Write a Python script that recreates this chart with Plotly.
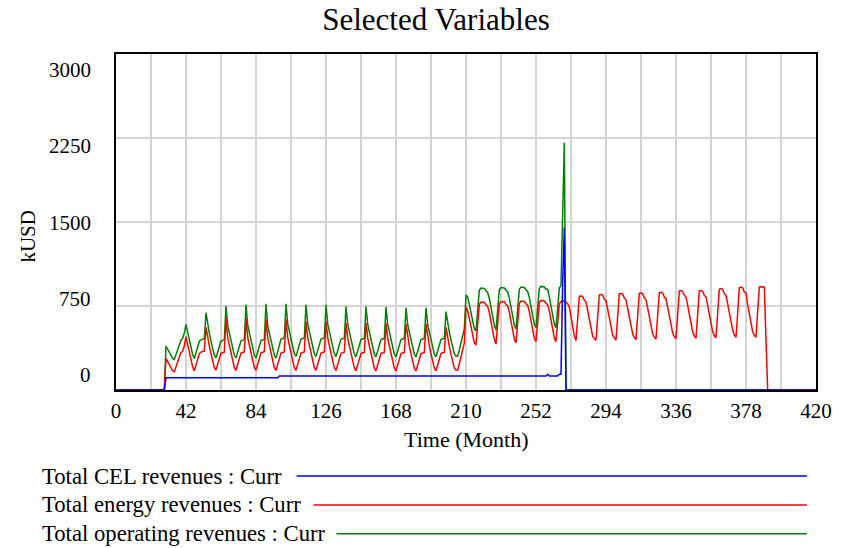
import plotly.graph_objects as go

# monthly values, one row = 12 months (row k starts at month 12*k)
months = list(range(0, 421))

cel_revenues = [
    0, 0, 0, 0, 0, 0, 0, 0, 0, 0, 0, 0,
    0, 0, 0, 0, 0, 0, 0, 0, 0, 0, 0, 0,
    0, 0, 0, 0, 0, 0, 110, 110, 110, 110, 110, 110,
    110, 110, 110, 110, 110, 110, 110, 110, 110, 110, 110, 110,
    110, 110, 110, 110, 110, 110, 110, 110, 110, 110, 110, 110,
    110, 110, 110, 110, 110, 110, 110, 110, 110, 110, 110, 110,
    110, 110, 110, 110, 110, 110, 110, 110, 110, 110, 110, 110,
    110, 110, 110, 110, 110, 110, 110, 110, 110, 110, 110, 110,
    110, 110, 125, 125, 125, 125, 125, 125, 125, 125, 125, 125,
    125, 125, 125, 125, 125, 125, 125, 125, 125, 125, 125, 125,
    125, 125, 125, 125, 125, 125, 125, 125, 125, 125, 125, 125,
    125, 125, 125, 125, 125, 125, 125, 125, 125, 125, 125, 125,
    125, 125, 125, 125, 125, 125, 125, 125, 125, 125, 125, 125,
    125, 125, 125, 125, 125, 125, 125, 125, 125, 125, 125, 125,
    125, 125, 125, 125, 125, 125, 125, 125, 125, 125, 125, 125,
    125, 125, 125, 125, 125, 125, 125, 125, 125, 125, 125, 125,
    125, 125, 125, 125, 125, 125, 125, 125, 125, 125, 125, 125,
    125, 125, 125, 125, 125, 125, 125, 125, 125, 125, 125, 125,
    125, 125, 125, 125, 125, 125, 125, 125, 125, 125, 125, 125,
    125, 125, 125, 125, 125, 125, 125, 125, 125, 125, 125, 125,
    125, 125, 125, 125, 125, 125, 125, 125, 125, 125, 125, 125,
    125, 125, 125, 125, 125, 125, 125, 140, 125, 125, 125, 125,
    125, 125, 140, 140, 955, 1450, 0, 0, 0, 0, 0, 0,
    0, 0, 0, 0, 0, 0, 0, 0, 0, 0, 0, 0,
    0, 0, 0, 0, 0, 0, 0, 0, 0, 0, 0, 0,
    0, 0, 0, 0, 0, 0, 0, 0, 0, 0, 0, 0,
    0, 0, 0, 0, 0, 0, 0, 0, 0, 0, 0, 0,
    0, 0, 0, 0, 0, 0, 0, 0, 0, 0, 0, 0,
    0, 0, 0, 0, 0, 0, 0, 0, 0, 0, 0, 0,
    0, 0, 0, 0, 0, 0, 0, 0, 0, 0, 0, 0,
    0, 0, 0, 0, 0, 0, 0, 0, 0, 0, 0, 0,
    0, 0, 0, 0, 0, 0, 0, 0, 0, 0, 0, 0,
    0, 0, 0, 0, 0, 0, 0, 0, 0, 0, 0, 0,
    0, 0, 0, 0, 0, 0, 0, 0, 0, 0, 0, 0,
    0, 0, 0, 0, 0, 0, 0, 0, 0, 0, 0, 0,
    0,
]

energy_revenues = [
    0, 0, 0, 0, 0, 0, 0, 0, 0, 0, 0, 0,
    0, 0, 0, 0, 0, 0, 0, 0, 0, 0, 0, 0,
    0, 0, 0, 0, 0, 0, 283, 255, 225, 195, 172, 163,
    205, 255, 300, 335, 345, 395, 476, 400, 330, 260, 205, 172,
    225, 280, 325, 338, 342, 348, 560, 465, 395, 325, 255, 200,
    178, 230, 285, 328, 333, 338, 640, 470, 400, 330, 260, 200,
    176, 230, 285, 330, 335, 340, 640, 472, 402, 332, 262, 202,
    176, 232, 287, 332, 337, 342, 630, 470, 400, 330, 260, 200,
    175, 230, 285, 330, 335, 340, 630, 470, 400, 330, 260, 200,
    175, 230, 285, 330, 335, 340, 610, 470, 400, 330, 260, 200,
    175, 230, 285, 330, 335, 340, 610, 468, 398, 328, 258, 198,
    174, 228, 284, 328, 334, 338, 600, 466, 396, 326, 256, 196,
    172, 226, 282, 326, 332, 336, 600, 465, 395, 325, 255, 195,
    172, 226, 282, 326, 332, 336, 595, 465, 395, 325, 255, 195,
    170, 225, 280, 325, 330, 335, 590, 462, 392, 322, 252, 195,
    170, 225, 280, 325, 330, 335, 590, 462, 392, 322, 252, 196,
    172, 226, 282, 326, 332, 336, 560, 460, 390, 320, 252, 198,
    176, 178, 232, 290, 340, 420, 744, 705, 640, 560, 480, 420,
    402, 570, 765, 786, 786, 782, 762, 746, 692, 602, 522, 452,
    410, 585, 770, 790, 790, 786, 766, 750, 696, 606, 526, 456,
    420, 595, 775, 795, 795, 790, 770, 755, 700, 610, 530, 462,
    431, 605, 780, 800, 800, 795, 775, 760, 705, 615, 535, 465,
    431, 600, 770, 790, 800, 792, 785, 770, 740, 655, 565, 485,
    440, 640, 835, 838, 835, 800, 785, 710, 630, 550, 480, 458,
    445, 650, 850, 852, 848, 812, 797, 722, 642, 562, 492, 465,
    446, 655, 860, 862, 856, 820, 805, 730, 650, 570, 500, 468,
    450, 660, 862, 865, 858, 822, 807, 732, 652, 572, 502, 472,
    455, 665, 870, 872, 866, 830, 815, 740, 660, 580, 510, 476,
    458, 670, 885, 888, 880, 845, 830, 755, 675, 595, 520, 480,
    462, 675, 885, 888, 880, 845, 830, 755, 675, 595, 522, 484,
    466, 685, 900, 905, 898, 860, 845, 770, 690, 610, 535, 490,
    470, 690, 915, 918, 912, 875, 866, 760, 685, 595, 521, 485,
    476, 700, 920, 922, 920, 918, 443, 0, 0, 0, 0, 0,
    0, 0, 0, 0, 0, 0, 0, 0, 0, 0, 0, 0,
    0, 0, 0, 0, 0, 0, 0, 0, 0, 0, 0, 0,
    0,
]

operating_revenues = [
    0, 0, 0, 0, 0, 0, 0, 0, 0, 0, 0, 0,
    0, 0, 0, 0, 0, 0, 0, 0, 0, 0, 0, 0,
    0, 0, 0, 0, 0, 0, 393, 365, 335, 305, 282, 273,
    315, 365, 410, 445, 460, 510, 586, 510, 440, 370, 315, 282,
    335, 390, 435, 448, 452, 458, 690, 575, 505, 435, 365, 310,
    288, 340, 395, 438, 443, 448, 750, 580, 510, 440, 370, 310,
    286, 340, 395, 440, 445, 450, 760, 582, 512, 442, 372, 312,
    286, 342, 397, 442, 447, 452, 770, 580, 510, 440, 370, 310,
    285, 340, 410, 455, 460, 465, 770, 595, 525, 455, 385, 325,
    300, 355, 410, 455, 460, 465, 760, 595, 525, 455, 385, 325,
    300, 355, 410, 455, 460, 465, 760, 593, 523, 453, 383, 323,
    299, 353, 409, 453, 459, 463, 745, 591, 521, 451, 381, 321,
    297, 351, 407, 451, 457, 461, 745, 590, 520, 450, 380, 320,
    297, 351, 407, 451, 457, 461, 740, 590, 520, 450, 380, 320,
    295, 350, 405, 450, 455, 460, 735, 587, 517, 447, 377, 320,
    295, 350, 405, 450, 455, 460, 735, 587, 517, 447, 377, 321,
    297, 351, 407, 451, 457, 461, 700, 585, 515, 445, 377, 323,
    301, 303, 357, 415, 465, 545, 848, 830, 765, 685, 605, 545,
    527, 695, 890, 911, 911, 907, 887, 871, 817, 727, 647, 577,
    535, 710, 895, 915, 915, 911, 891, 875, 821, 731, 651, 581,
    545, 720, 900, 920, 920, 915, 895, 880, 825, 735, 655, 587,
    556, 730, 905, 925, 925, 920, 900, 900, 830, 740, 660, 590,
    556, 725, 910, 930, 1580, 2210, 0, 0, 0, 0, 0, 0,
    0, 0, 0, 0, 0, 0, 0, 0, 0, 0, 0, 0,
    0, 0, 0, 0, 0, 0, 0, 0, 0, 0, 0, 0,
    0, 0, 0, 0, 0, 0, 0, 0, 0, 0, 0, 0,
    0, 0, 0, 0, 0, 0, 0, 0, 0, 0, 0, 0,
    0, 0, 0, 0, 0, 0, 0, 0, 0, 0, 0, 0,
    0, 0, 0, 0, 0, 0, 0, 0, 0, 0, 0, 0,
    0, 0, 0, 0, 0, 0, 0, 0, 0, 0, 0, 0,
    0, 0, 0, 0, 0, 0, 0, 0, 0, 0, 0, 0,
    0, 0, 0, 0, 0, 0, 0, 0, 0, 0, 0, 0,
    0, 0, 0, 0, 0, 0, 0, 0, 0, 0, 0, 0,
    0, 0, 0, 0, 0, 0, 0, 0, 0, 0, 0, 0,
    0, 0, 0, 0, 0, 0, 0, 0, 0, 0, 0, 0,
    0,
]

series_names = ["Total CEL revenues : Curr",
                "Total energy revenues : Curr",
                "Total operating revenues : Curr"]
series_colors = ["#0000ff", "#ff0000", "#008000"]

x_grid = list(range(0, 421, 21))
x_labels = ["0", "42", "84", "126", "168", "210", "252", "294", "336", "378", "420"]
y_ticks = [0, 750, 1500, 2250, 3000]

FONT = "Liberation Serif"

fig = go.Figure()
# green first, blue last so the blue zero line sits on top like the original
for values, idx in [(operating_revenues, 2), (energy_revenues, 1), (cel_revenues, 0)]:
    fig.add_trace(go.Scatter(x=months, y=values, mode="lines",
                             line=dict(color=series_colors[idx], width=1.5),
                             name=series_names[idx], showlegend=False,
                             hoverinfo="skip"))

tick_text = []
for v in x_grid:
    tick_text.append(str(v) if str(v) in x_labels else "")

fig.update_xaxes(range=[0, 420], tickvals=x_grid, ticktext=tick_text,
                 showgrid=True, gridcolor="#d4d4d4", gridwidth=2,
                 showline=True, linecolor="black", linewidth=2, mirror=True,
                 zeroline=False, ticks="", ticklabelstandoff=1,
                 tickfont=dict(family=FONT, size=21, color="black"))
fig.update_yaxes(range=[0, 3000], tickvals=y_ticks, showticklabels=False,
                 showgrid=True, gridcolor="#d4d4d4", gridwidth=2,
                 showline=True, linecolor="black", linewidth=2, mirror=True,
                 zeroline=False, ticks="")

annotations = []
# y tick labels: Vensim spreads them a little inside the axis ends
for v in y_ticks:
    annotations.append(dict(x=0, xref="paper", y=v, yref="y", text=str(v),
                            showarrow=False, xanchor="right", yanchor="middle",
                            xshift=-23, yshift=15 - v * 31 / 3000,
                            font=dict(family=FONT, size=21, color="black")))
annotations.append(dict(x=-0.125, xref="paper", y=0.458, yref="paper", text="kUSD",
                        textangle=-90, showarrow=False,
                        xanchor="center", yanchor="middle",
                        font=dict(family=FONT, size=21, color="black")))
annotations.append(dict(x=0.5, xref="paper", y=-0.146, yref="paper",
                        text="Time (Month)", showarrow=False, yanchor="middle",
                        font=dict(family=FONT, size=22, color="black")))

# legend rows below the chart: label on the left, long line to the right
legend_y = [-0.256, -0.342, -0.428]
line_start = [0.258, 0.282, 0.315]
shapes = []
for i in range(3):
    annotations.append(dict(x=-0.108, xref="paper", y=legend_y[i], yref="paper",
                            text=series_names[i], showarrow=False,
                            xanchor="left", yanchor="middle",
                            font=dict(family=FONT, size=22.7, color="black")))
    shapes.append(dict(type="line", xref="paper", yref="paper",
                       x0=line_start[i], x1=0.987, y0=legend_y[i], y1=legend_y[i],
                       line=dict(color=series_colors[i], width=1.5)))

fig.update_layout(
    width=844, height=548,
    margin=dict(l=116, r=23, t=54, b=158),
    paper_bgcolor="white", plot_bgcolor="white",
    title=dict(text="Selected Variables", x=436 / 844, xanchor="center",
               y=1 - 19 / 548, yanchor="middle",
               font=dict(family=FONT, size=31, color="black")),
    annotations=annotations, shapes=shapes,
)

# drop the default 8px page margin so the figure sits at the window corner
fig.write_html("out.html", config={"displayModeBar": False},
               post_script="document.body.style.margin='0';")
